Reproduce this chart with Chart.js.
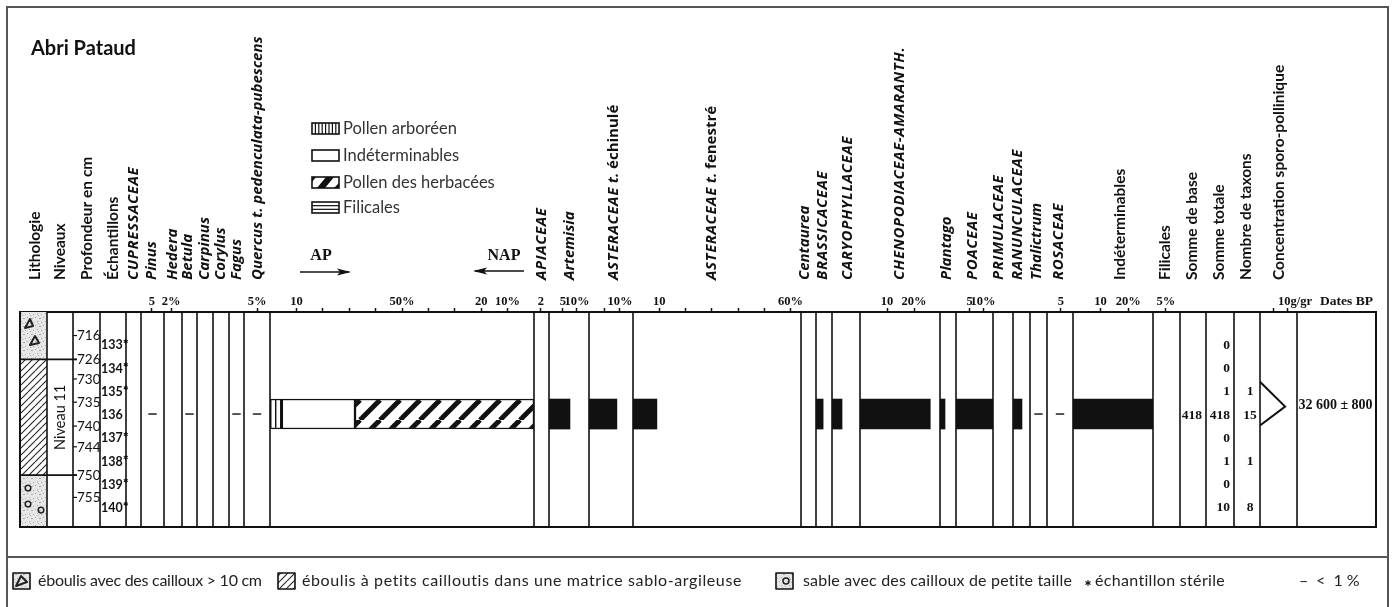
<!DOCTYPE html>
<html><head><meta charset="utf-8">
<script src="https://cdn.jsdelivr.net/npm/chart.js@4.4.1/dist/chart.umd.min.js"></script>
<style>html,body{margin:0;padding:0;background:#fff;overflow:hidden}#wrap{width:1393px;height:607px}</style>
</head><body><div id="wrap"><canvas id="c" width="1393" height="607"></canvas></div>
<script>
// ---------------- DATA ----------------
const samples      = [133, 134, 135, 136, 137, 138, 139, 140];
const sterile      = [true, true, true, false, true, true, true, true];
const depthLabels  = [716, 726, 730, 735, 740, 744, 750, 755];
const lithoTops    = [716, 726, 750];
const lithoUnits   = ['eboulisGros', 'eboulisPetits', 'sable'];
const niveauLabel  = 'Niveau 11';
const niveauRange  = [726, 750];

// pollen percentages (value < 1 means "< 1 %", drawn as a dash)
const cupressaceae       = [null, null, null, null, null, null, null, null];
const pinus              = [null, null, null, 0.5, null, null, null, null];
const hedera             = [null, null, null, null, null, null, null, null];
const betula             = [null, null, null, 0.5, null, null, null, null];
const carpinus           = [null, null, null, null, null, null, null, null];
const corylus            = [null, null, null, null, null, null, null, null];
const fagus              = [null, null, null, 0.5, null, null, null, null];
const quercus            = [null, null, null, 0.5, null, null, null, null];
const apPct              = [null, null, null, 4.5, null, null, null, null];
const indetApNapPct      = [null, null, null, 27.7, null, null, null, null];
const napPct             = [null, null, null, 67.8, null, null, null, null];
const apiaceae           = [null, null, null, null, null, null, null, null];
const artemisia          = [null, null, null, 7.5, null, null, null, null];
const asteraceaeEchinule = [null, null, null, 9.0, null, null, null, null];
const asteraceaeFenestre = [null, null, null, 9.1, null, null, null, null];
const centaurea          = [null, null, null, null, null, null, null, null];
const brassicaceae       = [null, null, null, 2.7, null, null, null, null];
const caryophyllaceae    = [null, null, null, 3.8, null, null, null, null];
const chenopodiaceae     = [null, null, null, 26.0, null, null, null, null];
const plantago           = [null, null, null, 1.9, null, null, null, null];
const poaceae            = [null, null, null, 13.7, null, null, null, null];
const primulaceae        = [null, null, null, null, null, null, null, null];
const ranunculaceae      = [null, null, null, 3.4, null, null, null, null];
const thalictrum         = [null, null, null, 0.5, null, null, null, null];
const rosaceae           = [null, null, null, 0.5, null, null, null, null];
const indeterminables    = [null, null, null, 29.0, null, null, null, null];
const filicales          = [null, null, null, null, null, null, null, null];
const sommeBase          = [null, null, null, 418, null, null, null, null];
const sommeTotale        = [0, 0, 1, 418, 0, 1, 0, 10];
const nombreTaxons       = [null, null, 1, 15, null, 1, null, 8];
const concValue          = [0, 9.3, 0];
const datesBP            = ['32 600 ± 800'];

// ---------------- LAYOUT ----------------
const depthPos   = [132.62, 133.65, 134.49, 135.49, 136.52, 137.41, 138.63, 139.59]; // depth labels in sample units
const concPos    = [134.61, 135.68, 136.49];
const datesPos   = [135.64];
const Y_MIN = 132.12, Y_MAX = 140.35;
const AXH = 24;
const PXPCT = 2.64;
const SERIF = '"Liberation Serif", "DejaVu Serif", serif';
const SANS = 'Lato, "Open Sans", sans-serif';
const OPEN = '"Open Sans", Lato, sans-serif';

const COLS = [
 {id:'lith', w:27, label:[['Lithologie',0]], lx:15},
 {id:'niv', w:26, label:[['Niveaux',0]], lx:13},
 {id:'prof', w:27, label:[['Profondeur en cm',0]], lx:14},
 {id:'ech', w:26, label:[['Échantillons',0]], lx:13},
 {id:'cupr', w:15, label:[['CUPRESSACEAE',1]], lx:8, series:cupressaceae},
 {id:'pinus', w:23, label:[['Pinus',1]], lx:11, max:10.5, ticks:[5], tl:{5:'5'}, series:pinus},
 {id:'hedera', w:18, label:[['Hedera',1]], lx:9, max:5.1, ticks:[2], tl:{2:'2%'}, series:hedera},
 {id:'betula', w:15, label:[['Betula',1]], lx:6, series:betula},
 {id:'carpinus', w:16, label:[['Carpinus',1]], lx:8, series:carpinus},
 {id:'corylus', w:16, label:[['Corylus',1]], lx:8, series:corylus},
 {id:'fagus', w:15, label:[['Fagus',1]], lx:8, series:fagus},
 {id:'quercus', w:26, label:[['Quercus t. pedenculata-pubescens',1]], lx:14, max:10, ticks:[5], tl:{5:'5%'}, series:quercus},
 {id:'apnap', w:264, max:100, ticks:[10,20,30,40,50,60,70,80,90], tl:{10:'10',50:'50%',80:'20',90:'10%'}},
 {id:'apiaceae', w:15, label:[['APIACEAE',1]], lx:8, max:4.3, ticks:[2], tl:{2:'2'}, series:apiaceae},
 {id:'artemisia', w:40, label:[['Artemisia',1]], lx:21, max:14.3, ticks:[5,10], tl:{5:'5',10:'10%'}, series:artemisia},
 {id:'astEch', w:44, label:[['ASTERACEAE',1],[' t. ',1],['échinulé',2]], lx:25, max:14.2, ticks:[5,10], tl:{10:'10%'}, series:asteraceaeEchinule},
 {id:'astFen', w:168, label:[['ASTERACEAE',1],[' t. ',1],['fenestré',2]], lx:79, max:64, ticks:[10,20,30,40,50,60], tl:{10:'10',60:'60%'}, series:asteraceaeFenestre},
 {id:'centaurea', w:15, label:[['Centaurea',1]], lx:4, series:centaurea},
 {id:'brass', w:16, label:[['BRASSICACEAE',1]], lx:7, series:brassicaceae},
 {id:'caryo', w:28, label:[['CARYOPHYLLACEAE',1]], lx:16, series:caryophyllaceae},
 {id:'cheno', w:80, label:[['CHENOPODIACEAE-AMARANTH.',1]], lx:40, max:29.6, ticks:[10,20], tl:{10:'10',20:'20%'}, series:chenopodiaceae},
 {id:'plantago', w:16, label:[['Plantago',1]], lx:7, series:plantago},
 {id:'poaceae', w:37, label:[['POACEAE',1]], lx:17, max:13.7, ticks:[5,10], tl:{5:'5',10:'10%'}, series:poaceae},
 {id:'primul', w:20, label:[['PRIMULACEAE',1]], lx:6, series:primulaceae},
 {id:'ranunc', w:17, label:[['RANUNCULACEAE',1]], lx:5, series:ranunculaceae},
 {id:'thalic', w:17, label:[['Thalictrum',1]], lx:7, series:thalictrum},
 {id:'rosac', w:26, label:[['ROSACEAE',1]], lx:12, max:9.3, ticks:[5], tl:{5:'5'}, series:rosaceae},
 {id:'indet', w:80, label:[['Indéterminables',0]], lx:47, max:29, ticks:[10,20], tl:{10:'10',20:'20%'}, series:indeterminables},
 {id:'filic', w:27, label:[['Filicales',0]], lx:12, max:10.4, ticks:[5], tl:{5:'5%'}, series:filicales},
 {id:'sBase', w:26, label:[['Somme de base',0]], lx:12},
 {id:'sTot', w:28, label:[['Somme totale',0]], lx:13},
 {id:'nTax', w:26, label:[['Nombre de taxons',0]], lx:12},
 {id:'conc', w:37, label:[['Concentration sporo-pollinique',0]], lx:19, max:13.7, ticks:[5,10], tl:{10:'10g/gr'}, lo:8},
 {id:'dates', w:79}
];

// ---------------- PATTERNS ----------------
const canvas = document.getElementById('c');
const ctx0 = canvas.getContext('2d');
function makePattern(w, h, draw){
  const c = document.createElement('canvas'); c.width = w; c.height = h;
  const g = c.getContext('2d'); draw(g, w, h); return ctx0.createPattern(c, 'repeat');
}
const pVert = makePattern(5, 4, (g,w,h)=>{ g.fillStyle='#fff'; g.fillRect(0,0,w,h); g.fillStyle='#111'; g.fillRect(0,0,1.4,h); });
const pDiagThick = makePattern(20, 20, (g,w,h)=>{ g.fillStyle='#fff'; g.fillRect(0,0,w,h); g.strokeStyle='#111'; g.lineWidth=5;
  [-20,0,20].forEach(x0=>{ g.beginPath(); g.moveTo(x0,h); g.lineTo(x0+w,0); g.stroke(); }); });
const pHatchThin = makePattern(7, 7, (g,w,h)=>{ g.fillStyle='#fff'; g.fillRect(0,0,w,h); g.strokeStyle='#222'; g.lineWidth=1.1;
  [-7,0,7].forEach(x0=>{ g.beginPath(); g.moveTo(x0,h); g.lineTo(x0+w,0); g.stroke(); }); });
const pStipple = makePattern(8, 8, (g,w,h)=>{ g.fillStyle='#e6e6e6'; g.fillRect(0,0,w,h); g.fillStyle='#aaa';
  [[1,2],[5,1],[3,5],[7,6],[6,3],[0,6]].forEach(p=>g.fillRect(p[0],p[1],1,1)); });

// ---------------- DATASETS ----------------
const datasets = [];
COLS.forEach(c => {
  c.max = c.max || c.w / PXPCT;
  if (!c.series) return;
  const bars = [], dashes = [];
  c.series.forEach((v, i) => {
    if (v === null) return;
    if (v < 1) dashes.push({x: c.max / 2, y: samples[i]});
    else bars.push({x: v, y: samples[i]});
  });
  if (bars.length) datasets.push({type:'bar', indexAxis:'y', grouped:false, xAxisID:c.id, yAxisID:'y', data:bars,
    backgroundColor:'#111', borderWidth:0, barThickness:30});
  if (dashes.length) datasets.push({type:'scatter', xAxisID:c.id, yAxisID:'y', data:dashes,
    pointStyle:'line', pointRadius:4.2, pointBorderWidth:1.8, pointBorderColor:'#444', pointBackgroundColor:'#444'});
});
const apData = [], indData = [], napData = [];
samples.forEach((s, i) => {
  if (apPct[i] === null) return;
  const a = apPct[i], b = a + indetApNapPct[i], t = b + napPct[i];
  apData.push({x:[0, a], y:s}); indData.push({x:[a, b], y:s}); napData.push({x:[b, t], y:s});
});
[[apData, pVert], [indData, '#fff'], [napData, pDiagThick]].forEach(([d, fill]) => {
  datasets.push({type:'bar', indexAxis:'y', grouped:false, xAxisID:'apnap', yAxisID:'y', data:d,
    backgroundColor:fill, borderColor:'#111', borderWidth:1.5, borderSkipped:false, barThickness:30});
});
datasets.push({type:'line', xAxisID:'conc', yAxisID:'y', data: concValue.map((v, i) => ({x:v, y:concPos[i]})),
  borderColor:'#111', borderWidth:2, pointRadius:0, tension:0, fill:false});

// ---------------- SCALES ----------------
const scales = { y: {type:'linear', display:false, reverse:true, min:Y_MIN, max:Y_MAX} };
COLS.forEach((c, i) => {
  scales[c.id] = {
    type:'linear', axis:'x', position:'top', stack:'cols', stackWeight:c.w, weight:COLS.length - i,
    min:0, max:c.max, offset:false,
    afterFit: s => { s.height = AXH; },
    afterBuildTicks: s => { s.ticks = (c.ticks || []).map(v => ({value:v})); },
    grid:{display:true, offset:false, drawOnChartArea:false, drawTicks:true, tickLength:4, tickWidth:1.5, tickColor:'#111', color:'#111'},
    border:{display:true, color:'#111', width:2},
    ticks:{autoSkip:false, maxRotation:0, minRotation:0, padding:0, color:'#111', labelOffset:c.lo || 0,
      font:{family:SERIF, weight:'bold', size:12.5, lineHeight:1},
      callback: v => (c.tl && c.tl[v] !== undefined) ? c.tl[v] : ''}
  };
});

// ---------------- DRAWING HELPERS ----------------
function line(g, x1, y1, x2, y2){ g.beginPath(); g.moveTo(x1, y1); g.lineTo(x2, y2); g.stroke(); }
function vtext(g, x, y, segs){
  g.save(); g.translate(x, y); g.rotate(-Math.PI/2); g.textBaseline='middle'; g.textAlign='left';
  let cx = 0;
  segs.forEach(([t, it]) => {
    g.font = it === 1 ? 'italic bold 15px ' + OPEN : it === 2 ? 'bold 15px ' + OPEN : 'bold 15.5px ' + SANS;
    const caps = it === 1 && t === t.toUpperCase() && /[A-Z]{3}/.test(t);
    g.letterSpacing = caps ? '0.6px' : '0px';
    g.fillText(t, cx, 0); cx += g.measureText(t).width; });
  g.letterSpacing = '0px';
  g.restore();
}
function fitText(g, t, x, y, target){
  g.letterSpacing = '0px';
  const w = g.measureText(t).width;
  const ls = Math.max(-0.4, Math.min(0.6, (target - w) / Math.max(1, t.length - 1)));
  g.letterSpacing = ls.toFixed(2) + 'px';
  g.fillText(t, x, y);
  g.letterSpacing = '0px';
}
function depthY(ys, d){ const k = depthLabels.indexOf(d); return ys.getPixelForValue(depthPos[k]); }
function tri(g, pts){ g.beginPath(); g.moveTo(pts[0][0], pts[0][1]); for (let i=1;i<pts.length;i++) g.lineTo(pts[i][0], pts[i][1]); g.closePath(); g.strokeStyle='#222'; g.lineWidth=2; g.lineJoin='round'; g.stroke(); }
function circ(g, x, y, r){ g.beginPath(); g.arc(x, y, r, 0, Math.PI*2); g.lineWidth=1.5; g.strokeStyle='#222'; g.stroke(); }
function star(g, x, y, r){ g.save(); g.strokeStyle='#111'; g.lineWidth=1.1; for (let k=0;k<3;k++){ const a = Math.PI/2 + k*Math.PI/3; line(g, x - r*Math.cos(a), y - r*Math.sin(a), x + r*Math.cos(a), y + r*Math.sin(a)); } g.restore(); }
function arrow(g, x1, x2, y, dir){
  g.strokeStyle='#111'; g.lineWidth=1.5; line(g, x1, y, x2, y);
  g.fillStyle='#111'; g.beginPath();
  if (dir > 0){ g.moveTo(x2+2, y); g.lineTo(x2-12, y-3.5); g.lineTo(x2-9, y); g.lineTo(x2-12, y+3.5); }
  else { g.moveTo(x1-2, y); g.lineTo(x1+12, y-3.5); g.lineTo(x1+9, y); g.lineTo(x1+12, y+3.5); }
  g.closePath(); g.fill();
}

const diagramPlugin = {
  id:'diagram',
  beforeDraw(chart){ const g = chart.ctx; g.save(); g.fillStyle='#fff'; g.fillRect(0,0,chart.width,chart.height); g.restore(); },
  beforeDatasetsDraw(chart){
    const g = chart.ctx, A = chart.chartArea, ys = chart.scales.y, L = chart.scales.lith;
    g.save();
    const tops = lithoTops.map((d, i) => i === 0 ? A.top : depthY(ys, d));
    lithoUnits.forEach((u, i) => {
      const y0 = tops[i], y1 = i + 1 < tops.length ? tops[i+1] : A.bottom;
      g.fillStyle = u === 'eboulisPetits' ? pHatchThin : pStipple;
      g.fillRect(L.left, y0, L.right - L.left, y1 - y0);
      if (u === 'eboulisGros'){
        tri(g, [[L.left+5, y0+16],[L.left+10, y0+7],[L.left+13, y0+14]]);
        tri(g, [[L.left+10, y0+33],[L.left+15, y0+24],[L.left+19, y0+31]]);
      }
      if (u === 'sable'){ circ(g, L.left+8, y0+13, 2.8); circ(g, L.left+8, y0+29, 2.8); circ(g, L.left+21, y0+35, 2.8); }
    });
    g.restore();
  },
  afterDraw(chart){
    const g = chart.ctx, A = chart.chartArea, ys = chart.scales.y, S = chart.scales;
    g.save();
    g.strokeStyle = '#111'; g.lineWidth = 1.6;
    COLS.forEach((c, i) => { if (i > 0) line(g, S[c.id].left, A.top, S[c.id].left, A.bottom); });
    g.lineWidth = 2;
    line(g, A.left, A.top - 1, A.left, A.bottom + 1);
    line(g, A.right, A.top - 1, A.right, A.bottom + 1);
    line(g, A.left - 1, A.bottom, A.right + 1, A.bottom);
    g.lineWidth = 1.8;
    lithoTops.slice(1).forEach(d => { const y = depthY(ys, d); line(g, S.lith.left, y, S.prof.left + 4, y); });
    // depth ticks and labels
    g.lineWidth = 1.2; g.fillStyle = '#111'; g.font = '13.5px ' + SANS; g.textBaseline = 'middle'; g.textAlign = 'left';
    depthLabels.forEach((d, i) => { const y = ys.getPixelForValue(depthPos[i]); line(g, S.prof.left, y, S.prof.left + 4, y); g.fillText(String(d), S.prof.left + 4, y + 0.5); });
    // samples
    samples.forEach((s, i) => {
      const y = ys.getPixelForValue(s);
      g.font = 'bold 12.5px ' + SANS; g.textAlign = 'left';
      g.fillText(String(s), S.ech.left + 1, y + 1);
      if (sterile[i]){ const w = g.measureText(String(s)).width; star(g, S.ech.left + 4 + w, y - 3, 2.3); }
    });
    // niveau label
    const ny = (depthY(ys, niveauRange[0]) + depthY(ys, niveauRange[1])) / 2;
    g.save(); g.translate((S.niv.left + S.niv.right) / 2, ny); g.rotate(-Math.PI/2);
    g.font = '14.5px ' + SANS; g.textAlign = 'center'; g.textBaseline = 'middle'; g.fillText(niveauLabel, 0, 0); g.restore();
    // counts
    g.font = 'bold 13.5px ' + SERIF; g.fillStyle = '#111'; g.textBaseline = 'middle';
    samples.forEach((s, i) => {
      const y = ys.getPixelForValue(s) + 1;
      g.textAlign = 'right';
      if (sommeBase[i] !== null) g.fillText(String(sommeBase[i]), S.sBase.right - 4, y);
      if (sommeTotale[i] !== null) g.fillText(String(sommeTotale[i]), S.sTot.right - 4, y);
      g.textAlign = 'center';
      if (nombreTaxons[i] !== null) g.fillText(String(nombreTaxons[i]), (S.nTax.left + S.nTax.right) / 2 + 3, y);
    });
    // dates
    g.textAlign = 'center'; g.font = 'bold 14px ' + SERIF;
    datesBP.forEach((t, i) => g.fillText(t, (S.dates.left + S.dates.right) / 2 - 1, ys.getPixelForValue(datesPos[i])));
    g.font = 'bold 13.5px ' + SERIF; g.fillText('Dates BP', (S.dates.left + S.dates.right) / 2 + 10, 302);
    // rotated header labels
    g.fillStyle = '#111';
    COLS.forEach(c => { if (c.label) vtext(g, S[c.id].left + c.lx, 280, c.label); });
    // title
    g.font = 'bold 20px ' + SANS; g.textAlign = 'left'; g.textBaseline = 'alphabetic'; g.fillText('Abri Pataud', 31, 55);
    // pattern legend
    const LX = 312, LW = 27, LH = 11, rows = [123, 150, 177, 202];
    const names = ['Pollen arboréen', 'Indéterminables', 'Pollen des herbacées', 'Filicales'];
    rows.forEach((ry, k) => {
      g.save(); g.beginPath(); g.rect(LX, ry, LW, LH); g.clip();
      g.fillStyle = '#fff'; g.fillRect(LX, ry, LW, LH);
      g.strokeStyle = '#111'; g.lineWidth = 1.2;
      if (k === 0) for (let x = LX + 3.4; x < LX + LW; x += 3.4) line(g, x, ry, x, ry + LH);
      if (k === 2){ g.fillStyle = '#111'; g.beginPath(); g.moveTo(LX + 5, ry + LH); g.lineTo(LX + 13, ry + LH); g.lineTo(LX + 22, ry); g.lineTo(LX + 14, ry); g.closePath(); g.fill();
        g.beginPath(); g.moveTo(LX, ry + 5); g.lineTo(LX, ry); g.lineTo(LX + 4, ry); g.closePath(); g.fill();
        g.beginPath(); g.moveTo(LX + LW, ry + 6); g.lineTo(LX + LW, ry + LH); g.lineTo(LX + LW - 5, ry + LH); g.closePath(); g.fill(); }
      if (k === 3){ line(g, LX, ry + LH/3, LX + LW, ry + LH/3); line(g, LX, ry + 2*LH/3, LX + LW, ry + 2*LH/3); }
      g.restore();
      g.strokeStyle = '#111'; g.lineWidth = 1.6; g.strokeRect(LX, ry, LW, LH);
      g.fillStyle = '#333'; g.font = '16.5px ' + SANS; g.textAlign = 'left'; g.textBaseline = 'middle';
      g.fillText(names[k], LX + 31, ry + LH/2);
    });
    // AP / NAP arrows
    g.fillStyle = '#111'; g.font = 'bold 16px ' + SERIF; g.textAlign = 'center'; g.textBaseline = 'middle';
    g.fillText('AP', 321, 256); g.fillText('NAP', 504, 256);
    arrow(g, 300, 349, 272, 1); arrow(g, 475, 524, 271, -1);
    // outer frames
    g.strokeStyle = '#555'; g.lineWidth = 2;
    g.strokeRect(7, 7, 1381, 550);
    line(g, 7, 557, 7, 610); line(g, 1388, 557, 1388, 610);
    // bottom legend
    const ly = 581;
    g.fillStyle = pStipple; g.fillRect(13, 573, 17, 16);
    tri(g, [[16, 586],[21, 576],[27, 582]]);
    g.strokeStyle = '#111'; g.lineWidth = 1.6; g.strokeRect(13, 573, 17, 16);
    g.fillStyle = pHatchThin; g.fillRect(278, 573, 17, 16); g.strokeRect(278, 573, 17, 16);
    g.fillStyle = pStipple; g.fillRect(776, 573, 17, 16); circ(g, 786, 581, 3); g.strokeStyle = '#111'; g.lineWidth = 1.6; g.strokeRect(776, 573, 17, 16);
    g.fillStyle = '#222'; g.font = '16px ' + SANS; g.textAlign = 'left'; g.textBaseline = 'middle';
    fitText(g, 'éboulis avec des cailloux > 10 cm', 38, ly, 224);
    fitText(g, 'éboulis à petits cailloutis dans une matrice sablo-argileuse', 302, ly, 455);
    fitText(g, 'sable avec des cailloux de petite taille', 803, ly, 269);
    star(g, 1088, ly + 2, 3);
    g.fillStyle = '#222'; g.font = '16px ' + SANS; fitText(g, 'échantillon stérile', 1095, ly, 130);
    g.fillText('–', 1299, ly); g.fillText('<  1 %', 1316, ly);
    g.restore();
  }
};

new Chart(canvas, {
  type:'scatter',
  data:{ datasets },
  options:{
    responsive:false, animation:false, devicePixelRatio:1, events:[],
    layout:{ padding:{ left:20, right:17, top:312 - AXH, bottom:80 } },
    plugins:{ legend:{display:false}, tooltip:{enabled:false}, title:{display:false} },
    scales
  },
  plugins:[diagramPlugin]
});
</script>
</body></html>
